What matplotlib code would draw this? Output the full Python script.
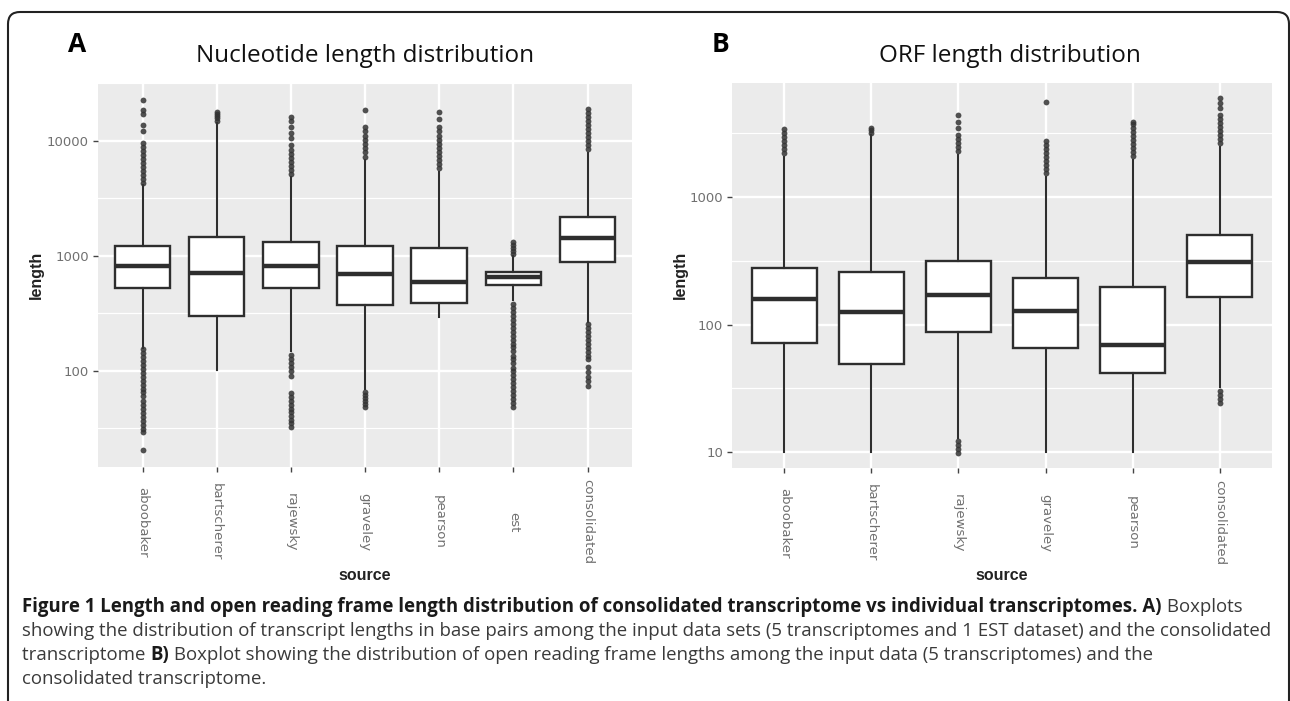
import matplotlib
matplotlib.use('Agg')
import matplotlib.pyplot as plt
from matplotlib.patches import FancyBboxPatch
from matplotlib.transforms import IdentityTransform
from matplotlib.ticker import NullLocator

# ---- panel A: nucleotide length ----
nuc_sources = ['aboobaker', 'bartscherer', 'rajewsky', 'graveley', 'pearson', 'est', 'consolidated']
nuc_whislo = [158, 102, 148, 70, 295, 415, 267]
nuc_q1 = [530, 298, 530, 378, 390, 560, 887]
nuc_med = [820, 713, 820, 697, 594, 656, 1435]
nuc_q3 = [1220, 1460, 1320, 1220, 1174, 726, 2180]
nuc_whishi = [4150, 14350, 4860, 6840, 5370, 1000, 7870]
nuc_fliers = [
    [155, 143, 132, 122, 113, 104, 96, 89, 82, 76, 70, 65, 60, 55, 51, 47, 43, 40, 37, 34, 31, 29.5, 20.6,
     4300, 4650, 5050, 5450, 5900, 6400, 6900, 7500, 8100, 8800, 9500, 12200, 13800, 17200, 18600, 22500],
    [15000, 15700, 16500, 17300, 18000],
    [138, 128, 118, 108, 100, 90, 64, 59, 55, 51, 47, 44, 40.5, 37.5, 35, 32.6,
     5150, 5600, 6050, 6550, 7100, 7700, 8300, 9300, 10500, 11800, 13200, 14800, 16200],
    [66, 62, 58, 55, 52, 49, 7300, 7950, 8650, 9400, 10200, 11100, 12100, 13200, 18600],
    [5800, 6300, 6800, 7400, 8000, 8700, 9400, 10200, 11100, 12100, 13200, 15500, 17900],
    [383, 354, 327, 302, 279, 258, 238, 220, 203, 187, 173, 160, 148, 136, 126, 116, 107, 99, 92, 85, 78,
     72, 67, 62, 57, 53, 49, 1040, 1100, 1170, 1240, 1320],
    [255, 235, 218, 201, 186, 172, 159, 147, 136, 126, 108, 98, 89, 81, 74,
     8500, 9200, 10000, 10800, 11700, 12700, 13800, 14900, 16200, 17600, 19000],
]
nuc_yticks = [100, 1000, 10000]
nuc_yticklabels = ['100', '1000', '10000']

# ---- panel B: ORF length ----
orf_sources = ['aboobaker', 'bartscherer', 'rajewsky', 'graveley', 'pearson', 'consolidated']
orf_whislo = [10, 10, 12.9, 10, 10, 32.4]
orf_q1 = [71.6, 49, 87, 65, 41.7, 164]
orf_med = [158, 125, 170, 128, 69, 309]
orf_q3 = [277, 258, 315, 232, 197, 503]
orf_whishi = [2060, 3060, 2140, 1435, 1950, 2470]
orf_fliers = [
    [2200, 2370, 2550, 2740, 2950, 3170, 3400],
    [3200, 3350, 3500],
    [12.2, 11.4, 10.6, 9.9, 2300, 2470, 2650, 2850, 3060, 3500, 3900, 4400],
    [1540, 1660, 1780, 1920, 2060, 2220, 2390, 2570, 2760, 5560],
    [2100, 2250, 2420, 2600, 2800, 3000, 3230, 3470, 3730, 3870],
    [30.2, 28.1, 26.1, 24.2, 2650, 2850, 3070, 3300, 3550, 3810, 4100, 4400, 5000, 5500, 5970],
]
orf_yticks = [10, 100, 1000]
orf_yticklabels = ['10', '100', '1000']

W, H = 1290, 701
fig = plt.figure(figsize=(W / 100, H / 100), dpi=100)
fig.patch.set_facecolor('white')


def px(x0, y0, x1, y1):
    return [x0 / W, 1 - y1 / H, (x1 - x0) / W, (y1 - y0) / H]


def panel(ax, names, lo, q1, med, q3, hi, fl, ylim, yticks, yticklabels):
    ax.set_facecolor('#EBEBEB')
    ax.set_yscale('log')
    ax.set_ylim(ylim)
    ax.set_xlim(0.4, len(names) + 0.6)
    for t in yticks:
        ax.axhline(t * 10 ** 0.5, color='white', lw=0.8, zorder=0)
        ax.axhline(t / 10 ** 0.5, color='white', lw=0.8, zorder=0)
        ax.axhline(t, color='white', lw=1.7, zorder=0)
    for i in range(len(names)):
        ax.axvline(i + 1, color='white', lw=1.7, zorder=0)
    stats = []
    for i, n in enumerate(names):
        stats.append(dict(label=n, whislo=lo[i], q1=q1[i], med=med[i], q3=q3[i], whishi=hi[i], fliers=fl[i]))
    ax.bxp(stats, positions=range(1, len(names) + 1), widths=0.75, patch_artist=True, showcaps=False,
           boxprops=dict(facecolor='white', edgecolor='#2e2e2e', lw=1.7),
           medianprops=dict(color='#2e2e2e', lw=3.2, solid_capstyle='butt'),
           whiskerprops=dict(color='#2e2e2e', lw=1.5),
           flierprops=dict(marker='o', ms=4.2, mfc='#333333', mec='none', alpha=0.85))
    ax.yaxis.set_minor_locator(NullLocator())
    ax.set_yticks(yticks)
    ax.set_yticklabels(yticklabels)
    ax.set_xticks(range(1, len(names) + 1))
    ax.set_xticklabels(names, rotation=270, va='center', ha='center')
    ax.tick_params(axis='both', colors='#444444', labelcolor='#707070', labelsize=9.5, length=3.5, width=1)
    ax.tick_params(axis='x', pad=36)
    ax.tick_params(axis='y', pad=3)
    for s in ax.spines.values():
        s.set_visible(False)


axA = fig.add_axes(px(98, 83, 632, 467))
panel(axA, nuc_sources, nuc_whislo, nuc_q1, nuc_med, nuc_q3, nuc_whishi, nuc_fliers,
      (14.6, 31900), nuc_yticks, nuc_yticklabels)
axB = fig.add_axes(px(732, 83, 1272, 468))
panel(axB, orf_sources, orf_whislo, orf_q1, orf_med, orf_q3, orf_whishi, orf_fliers,
      (7.5, 7830), orf_yticks, orf_yticklabels)


def ftext(x, y, s, **kw):
    return fig.text(x / W, 1 - y / H, s, **kw)


# titles, panel letters, axis titles
ftext(365, 62, 'Nucleotide length distribution', family='Open Sans', size=17.5, ha='center', va='baseline', color='#111111')
ftext(1010, 62, 'ORF length distribution', family='Open Sans', size=17.5, ha='center', va='baseline', color='#111111')
ftext(68, 52, 'A', family='Open Sans', weight='bold', size=19, ha='left', va='baseline')
ftext(712, 52, 'B', family='Open Sans', weight='bold', size=19, ha='left', va='baseline')
for x, y0 in [(36, 275), (680, 275)]:
    ftext(x, y0, 'length', family='Liberation Sans', weight='bold', size=11.5, rotation=90, ha='center', va='center', color='#222222')
ftext(365, 575, 'source', family='Liberation Sans', weight='bold', size=11.5, ha='center', va='center', color='#222222')
ftext(1002, 575, 'source', family='Liberation Sans', weight='bold', size=11.5, ha='center', va='center', color='#222222')

# frame round the figure
frame = FancyBboxPatch((8, -30), 1281, H - 12 + 30, boxstyle='round,pad=0,rounding_size=12',
                       transform=IdentityTransform(), fill=False, ec='#222222', lw=1.5)
fig.add_artist(frame)

# caption, drawn piece by piece
cap_lines = [
    [('Figure 1 Length and open reading frame length distribution of consolidated transcriptome vs individual transcriptomes. A)', 'bold'),
     (' Boxplots', 'normal')],
    [('showing the distribution of transcript lengths in base pairs among the input data sets (5 transcriptomes and 1 EST dataset) and the consolidated', 'normal')],
    [('transcriptome ', 'normal'), ('B)', 'bold'),
     (' Boxplot showing the distribution of open reading frame lengths among the input data (5 transcriptomes) and the', 'normal')],
    [('consolidated transcriptome.', 'normal')],
]
cap_y = [607, 631, 655, 679]
r = fig.canvas.get_renderer()
probe = ftext(0, 0, cap_lines[1][0][0], family='Open Sans', size=12)
cap_size = 12 * 1245 / probe.get_window_extent(r).width
probe.remove()
for segs, y in zip(cap_lines, cap_y):
    x = 22
    for s, w in segs:
        t = ftext(x, y, s, family='Open Sans', weight=w, size=cap_size, ha='left', va='center',
                  color='#1a1a1a' if w == 'bold' else '#3a3a3a')
        x += t.get_window_extent(r).width

fig.savefig('out.png', dpi=100)
